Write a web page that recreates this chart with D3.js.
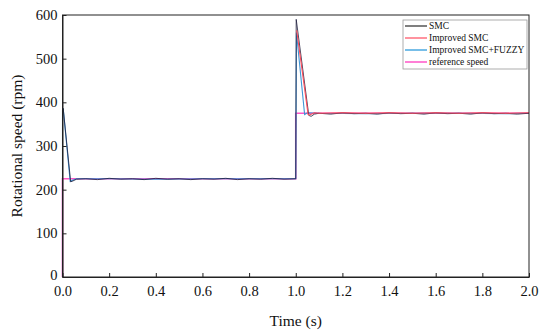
<!DOCTYPE html>
<html>
<head>
<meta charset="utf-8">
<title>Rotational speed</title>
<script src="https://d3js.org/d3.v7.min.js"></script>
<style>
body { margin: 0; background: #fff; }
text { font-family: "Liberation Serif", "Times New Roman", serif; fill: #111; }
</style>
</head>
<body>
<div id="chart"></div>
<script>
// data
var xTicks = [0, 0.2, 0.4, 0.6, 0.8, 1.0, 1.2, 1.4, 1.6, 1.8, 2.0];
var yTicks = [0, 100, 200, 300, 400, 500, 600];

var refT = [0, 0, 1, 1, 2];
var refV = [0, 225, 225, 375, 375];

var smcT = [0, 0, 0.003, 0.035, 0.045, 0.06, 0.1, 0.15, 0.2, 0.25, 0.3, 0.35, 0.4, 0.45, 0.5, 0.55, 0.6, 0.65, 0.7, 0.75, 0.8, 0.85, 0.9, 0.95, 1.0,
            1.0, 1.002, 1.056, 1.066, 1.08, 1.1, 1.15, 1.2, 1.25, 1.3, 1.35, 1.4, 1.45, 1.5, 1.55, 1.6, 1.65, 1.7, 1.75, 1.8, 1.85, 1.9, 1.95, 2.0];
var smcV = [0, 380, 386, 218, 220, 224, 225, 223, 226, 224, 225, 223, 226, 224, 225, 223, 225, 224, 226, 223, 225, 224, 226, 224, 225,
            225, 590, 370, 368, 373, 375, 373, 376, 374, 375, 373, 376, 374, 375, 373, 376, 374, 375, 373, 376, 374, 375, 373, 375];

var fuzT = [0, 0, 0.003, 0.033, 0.045, 0.06, 0.2, 0.4, 0.6, 0.8, 1.0,
            1.003, 1.038, 1.05, 1.1, 1.3, 1.5, 1.7, 1.9, 2.0];
var fuzV = [0, 382, 386, 219, 222, 225, 225, 224, 225, 225, 225,
            560, 372, 376, 375, 374, 375, 375, 374, 375];

var impT = [1.004, 1.053, 1.06, 1.08, 1.1, 1.2, 1.3, 1.4, 1.5, 1.6, 1.7, 1.8, 1.9, 2.0];
var impV = [565, 372, 371, 376, 375, 376, 375, 376, 375, 376, 375, 376, 375, 376];

var legendNames = ["SMC", "Improved SMC", "Improved SMC+FUZZY", "reference speed"];
var legendColors = ["#555555", "#ff6f7f", "#4aa8e0", "#ff55c8"];

var W = 550, H = 334,
    m = {left: 62.5, right: 21, top: 15, bottom: 57};

var svg = d3.select("#chart").append("svg")
    .attr("width", W).attr("height", H);

var x = d3.scaleLinear().domain([0, 2]).range([m.left, W - m.right]);
var y = d3.scaleLinear().domain([0, 600]).range([H - m.bottom, m.top]);

var line = d3.line().x(function(d){ return x(d[0]); }).y(function(d){ return y(d[1]); });
var zip = function(t, v){ return t.map(function(d, i){ return [d, v[i]]; }); };

// series, drawn back to front
svg.append("path").datum(zip(refT, refV)).attr("d", line)
   .attr("fill", "none").attr("stroke", "#ff55c8").attr("stroke-width", 1.6);
svg.append("path").datum(zip(fuzT, fuzV)).attr("d", line)
   .attr("fill", "none").attr("stroke", "#3f95d6").attr("stroke-width", 1.1);
svg.append("path").datum(zip(smcT, smcV)).attr("d", line)
   .attr("fill", "none").attr("stroke", "#1a1a3a").attr("stroke-width", 1)
   .attr("stroke-opacity", 0.8);
svg.append("path").datum(zip(impT, impV)).attr("d", line)
   .attr("fill", "none").attr("stroke", "#ff4a5a").attr("stroke-width", 1.1);

// axes with inner ticks
var xAxis = svg.append("g").attr("transform", "translate(0," + (H - m.bottom) + ")")
    .call(d3.axisBottom(x).tickValues(xTicks).tickFormat(d3.format(".1f")).tickSizeInner(-4).tickSizeOuter(0));
var yAxis = svg.append("g").attr("transform", "translate(" + m.left + ",0)")
    .call(d3.axisLeft(y).tickValues(yTicks).tickSizeInner(-4).tickSizeOuter(0));

svg.selectAll(".tick text")
   .style("font-family", "'Liberation Serif', 'Times New Roman', serif")
   .style("font-size", "14.5px").attr("fill", "#111");
xAxis.selectAll("text").attr("y", 9).attr("dy", "0.71em");
yAxis.selectAll("text").attr("x", -5);
yAxis.selectAll(".tick").filter(function(d){ return d === 0; }).select("text").attr("dy", "0.2em");
svg.selectAll(".domain").attr("stroke", "#222");
svg.selectAll(".tick line").attr("stroke", "#222");

// frame
svg.append("rect")
   .attr("x", m.left).attr("y", m.top)
   .attr("width", W - m.right - m.left).attr("height", H - m.bottom - m.top)
   .attr("fill", "none").attr("stroke", "#222").attr("stroke-width", 1);

svg.append("text").attr("x", (m.left + W - m.right) / 2).attr("y", 326)
   .attr("text-anchor", "middle").style("font-size", "15.5px").text("Time (s)");
svg.append("text")
   .attr("transform", "translate(22," + (m.top + (H - m.bottom - m.top) / 2) + ") rotate(-90)")
   .attr("text-anchor", "middle").style("font-size", "15.5px").text("Rotational speed (rpm)");

// legend
var lg = svg.append("g").attr("transform", "translate(403,20)");
lg.append("rect").attr("width", 124).attr("height", 49)
  .attr("fill", "#fff").attr("stroke", "#999").attr("stroke-width", 0.8);
legendNames.forEach(function(n, i){
  var yy = 6 + i * 12;
  lg.append("line").attr("x1", 2).attr("x2", 24).attr("y1", yy).attr("y2", yy)
    .attr("stroke", legendColors[i]).attr("stroke-width", 1.5);
  lg.append("text").attr("x", 26).attr("y", yy + 3.2).style("font-size", "9.5px").text(n);
});
</script>
</body>
</html>
